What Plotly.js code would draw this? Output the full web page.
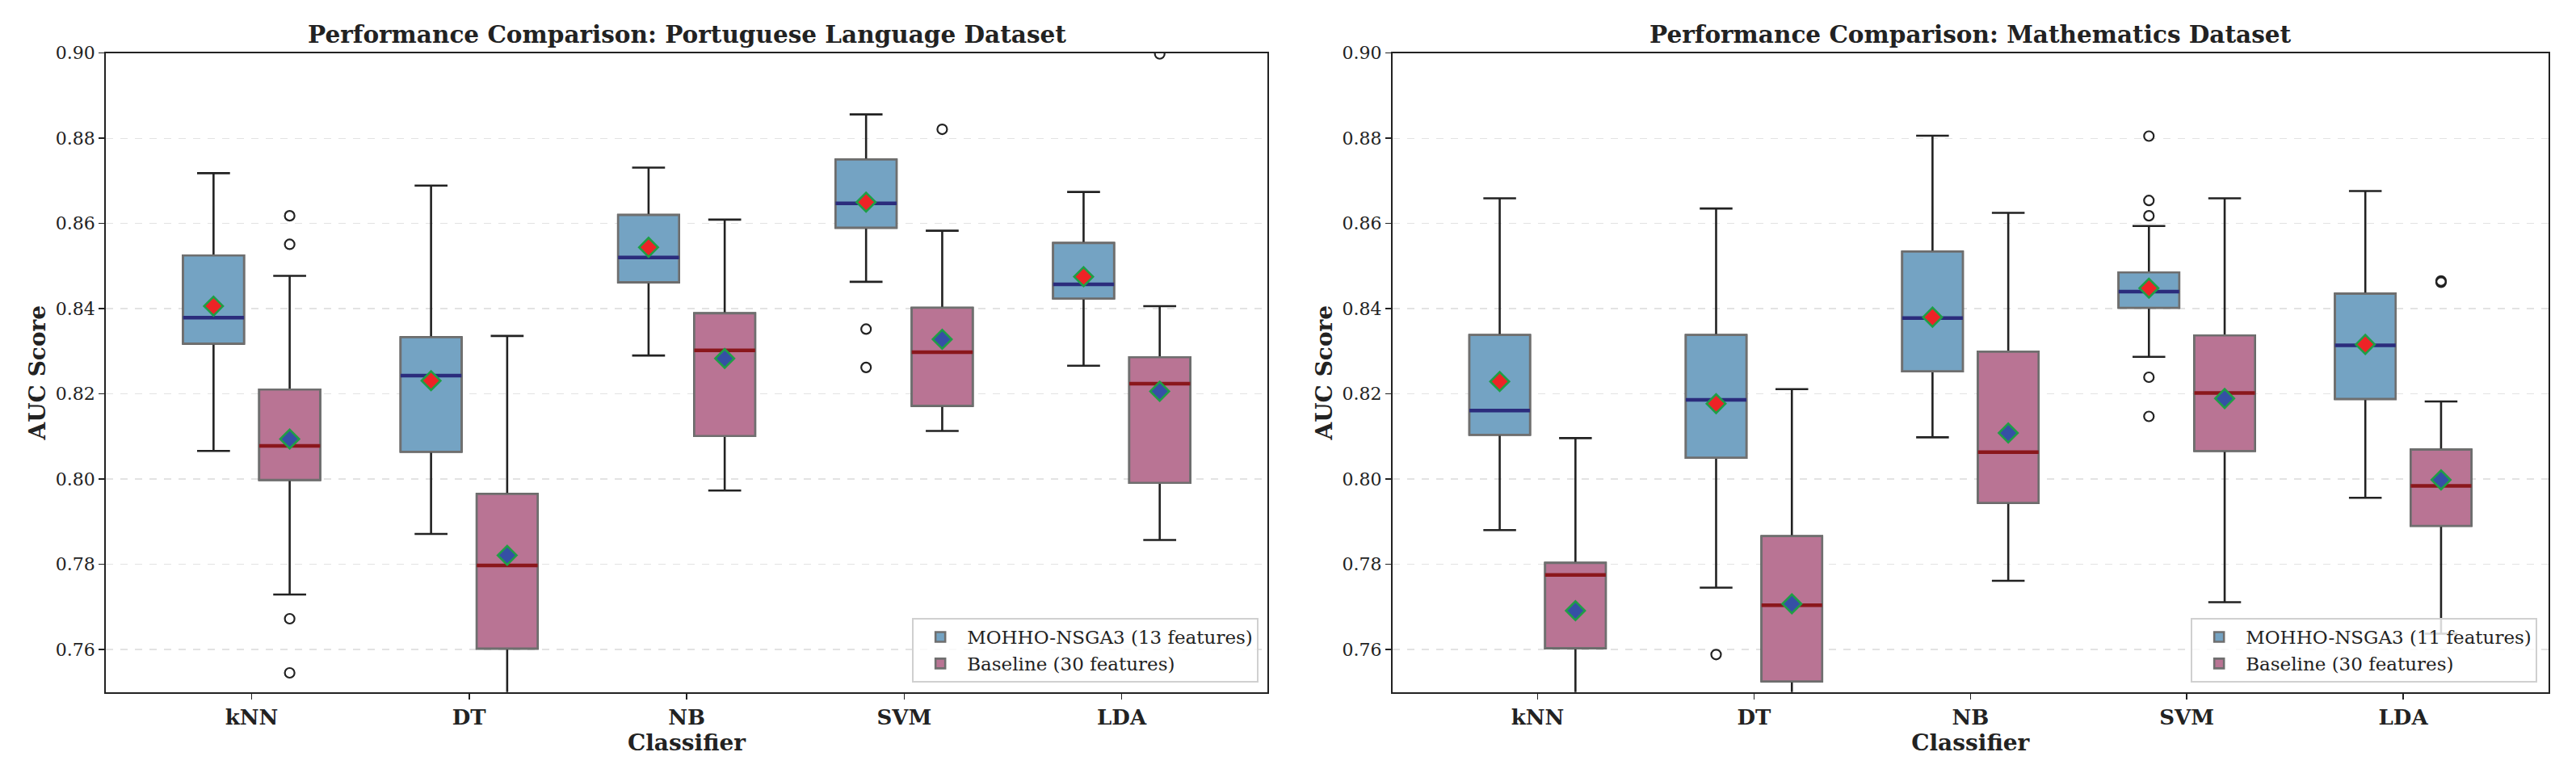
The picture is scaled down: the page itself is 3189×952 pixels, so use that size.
<!DOCTYPE html>
<html>
<head>
<meta charset="utf-8">
<script src="https://cdn.plot.ly/plotly-3.0.1.min.js"></script>
<style>
  html, body { margin: 0; padding: 0; background: #ffffff; }
  #chart { width: 3189px; height: 952px; }
</style>
</head>
<body>
<div id="chart"></div>
<script>
// ---------------- DATA ----------------
const categories = ['kNN', 'DT', 'NB', 'SVM', 'LDA'];
const yTickVals = [0.76, 0.78, 0.80, 0.82, 0.84, 0.86, 0.88, 0.90];

const panelTitles = ['Performance Comparison: Portuguese Language Dataset',
                     'Performance Comparison: Mathematics Dataset'];
const methodNamesPor = ['MOHHO-NSGA3 (13 features)', 'Baseline (30 features)'];
const methodNamesMat = ['MOHHO-NSGA3 (11 features)', 'Baseline (30 features)'];

// Portuguese – MOHHO-NSGA3
const porMohLower  = [0.8066, 0.7871, 0.8290, 0.8463, 0.8266];
const porMohQ1     = [0.8318, 0.8064, 0.8462, 0.8590, 0.8424];
const porMohMedian = [0.8379, 0.8243, 0.8520, 0.8647, 0.8457];
const porMohQ3     = [0.8525, 0.8333, 0.8620, 0.8750, 0.8554];
const porMohUpper  = [0.8718, 0.8689, 0.8731, 0.8856, 0.8674];
const porMohMean   = [0.8406, 0.8231, 0.8544, 0.8650, 0.8475];
const porMohOut    = [[], [], [], [0.8352, 0.8262], []];

// Portuguese – Baseline
const porBaseLower  = [0.7729, 0.7450, 0.7973, 0.8113, 0.7857];
const porBaseQ1     = [0.7998, 0.7602, 0.8101, 0.8172, 0.7991];
const porBaseMedian = [0.8078, 0.7797, 0.8302, 0.8298, 0.8224];
const porBaseQ3     = [0.8210, 0.7965, 0.8389, 0.8402, 0.8286];
const porBaseUpper  = [0.8477, 0.8336, 0.8609, 0.8583, 0.8406];
const porBaseMean   = [0.8094, 0.7821, 0.8283, 0.8328, 0.8206];
const porBaseOut    = [[0.8618, 0.8551, 0.7672, 0.7545], [], [], [0.8821], [0.8998]];

// Mathematics – MOHHO-NSGA3
const matMohLower  = [0.7880, 0.7745, 0.8098, 0.8287, 0.7956];
const matMohQ1     = [0.8104, 0.8050, 0.8253, 0.8402, 0.8188];
const matMohMedian = [0.8161, 0.8186, 0.8378, 0.8440, 0.8314];
const matMohQ3     = [0.8338, 0.8338, 0.8534, 0.8485, 0.8435];
const matMohUpper  = [0.8659, 0.8635, 0.8806, 0.8594, 0.8676];
const matMohMean   = [0.8229, 0.8177, 0.8380, 0.8448, 0.8316];
const matMohOut    = [[], [0.7588], [], [0.8805, 0.8654, 0.8618, 0.8239, 0.8147], []];

// Mathematics – Baseline
const matBaseLower  = [0.7450, 0.7480, 0.7761, 0.7711, 0.7637];
const matBaseQ1     = [0.7603, 0.7525, 0.7944, 0.8066, 0.7890];
const matBaseMedian = [0.7775, 0.7704, 0.8063, 0.8202, 0.7984];
const matBaseQ3     = [0.7803, 0.7866, 0.8299, 0.8337, 0.8069];
const matBaseUpper  = [0.8096, 0.8211, 0.8625, 0.8659, 0.8182];
const matBaseMean   = [0.7691, 0.7707, 0.8108, 0.8189, 0.7998];
const matBaseOut    = [[], [], [], [], [0.8465, 0.8462]];

// ---------------- STYLE ----------------
const FONT = 'DejaVu Serif, Liberation Serif, serif';
const BOX_W = 0.28;
const OFFSET = 0.175;
const styles = [
  { fill: '#74a3c3', median: '#2b2c7c', meanFill: '#ee2326' },
  { fill: '#b97494', median: '#8a171c', meanFill: '#3550a5' }
];
const EDGE = '#6f6f6f';
const WHISK = '#222222';
const MEAN_EDGE = '#1f9e46';

function series(stats, k, xa, ya, legendName, legendId) {
  const st = styles[k];
  const pos = categories.map((c, i) => i + (k === 0 ? -OFFSET : OFFSET));
  const traces = [];
  // whiskers + caps (black)
  traces.push({
    type: 'box', x: pos, xaxis: xa, yaxis: ya,
    q1: stats.q1, median: stats.median, q3: stats.q3,
    lowerfence: stats.lower, upperfence: stats.upper,
    width: BOX_W, whiskerwidth: 0.54, boxpoints: false,
    line: { color: WHISK, width: 2.6 }, fillcolor: st.fill,
    showlegend: false, hoverinfo: 'skip'
  });
  // box body (grey edge)
  traces.push({
    type: 'box', x: pos, xaxis: xa, yaxis: ya, name: legendName, legend: legendId,
    q1: stats.q1, median: stats.median, q3: stats.q3,
    lowerfence: stats.q1, upperfence: stats.q3,
    width: BOX_W, whiskerwidth: 0, boxpoints: false,
    line: { color: EDGE, width: 2.6 }, fillcolor: st.fill,
    showlegend: true, hoverinfo: 'skip'
  });
  // median lines
  const mx = [], my = [];
  pos.forEach((p, i) => { mx.push(p - BOX_W / 2, p + BOX_W / 2, null); my.push(stats.median[i], stats.median[i], null); });
  traces.push({
    type: 'scatter', mode: 'lines', x: mx, y: my, xaxis: xa, yaxis: ya,
    line: { color: st.median, width: 4.5 }, showlegend: false, hoverinfo: 'skip'
  });
  // outliers
  const ox = [], oy = [];
  stats.out.forEach((arr, i) => arr.forEach(v => { ox.push(pos[i]); oy.push(v); }));
  traces.push({
    type: 'scatter', mode: 'markers', x: ox, y: oy, xaxis: xa, yaxis: ya,
    marker: { symbol: 'circle-open', size: 12, color: WHISK, line: { width: 2.2, color: WHISK } },
    showlegend: false, hoverinfo: 'skip'
  });
  // means
  traces.push({
    type: 'scatter', mode: 'markers', x: pos, y: stats.mean, xaxis: xa, yaxis: ya,
    marker: { symbol: 'diamond', size: 18, color: st.meanFill, line: { width: 2.6, color: MEAN_EDGE } },
    showlegend: false, hoverinfo: 'skip'
  });
  return traces;
}

const data = [].concat(
  series({ lower: porMohLower, q1: porMohQ1, median: porMohMedian, q3: porMohQ3, upper: porMohUpper, mean: porMohMean, out: porMohOut }, 0, 'x', 'y', methodNamesPor[0], 'legend'),
  series({ lower: porBaseLower, q1: porBaseQ1, median: porBaseMedian, q3: porBaseQ3, upper: porBaseUpper, mean: porBaseMean, out: porBaseOut }, 1, 'x', 'y', methodNamesPor[1], 'legend'),
  series({ lower: matMohLower, q1: matMohQ1, median: matMohMedian, q3: matMohQ3, upper: matMohUpper, mean: matMohMean, out: matMohOut }, 0, 'x2', 'y2', methodNamesMat[0], 'legend2'),
  series({ lower: matBaseLower, q1: matBaseQ1, median: matBaseMedian, q3: matBaseQ3, upper: matBaseUpper, mean: matBaseMean, out: matBaseOut }, 1, 'x2', 'y2', methodNamesMat[1], 'legend2')
);

function xAxis(domain, anchor) {
  return {
    domain: domain, anchor: anchor, range: [-0.67, 4.67],
    tickmode: 'array', tickvals: categories.map((c, i) => i), ticktext: categories,
    ticks: 'outside', ticklen: 7, tickwidth: 1.5, tickcolor: '#222',
    showline: true, mirror: true, linecolor: '#222', linewidth: 2,
    showgrid: false, zeroline: false,
    tickfont: { family: FONT, size: 26, color: '#222', weight: 'bold' },
    title: { text: '<b>Classifier</b>', font: { family: FONT, size: 28, color: '#222' }, standoff: 6 }
  };
}
function yAxis(domain, anchor) {
  return {
    domain: domain, anchor: anchor, range: [0.75, 0.90],
    tickmode: 'array', tickvals: yTickVals, tickformat: '.2f',
    ticks: 'outside', ticklen: 7, tickwidth: 1.5, tickcolor: '#222',
    showline: true, mirror: true, linecolor: '#222', linewidth: 2,
    showgrid: true, gridcolor: '#e3e3e3', griddash: 'dash', gridwidth: 1.2, zeroline: false,
    tickfont: { family: FONT, size: 22, color: '#222' },
    title: { text: '<b>AUC Score</b>', font: { family: FONT, size: 28, color: '#222' }, standoff: 4 }
  };
}

const legendStyle = {
  bgcolor: 'rgba(255,255,255,0.82)', bordercolor: '#d0d0d0', borderwidth: 2,
  font: { family: FONT, size: 23, color: '#222' },
  xanchor: 'right', yanchor: 'bottom', itemwidth: 56, tracegroupgap: 4
};

const layout = {
  width: 3189, height: 952,
  margin: { l: 0, r: 0, t: 0, b: 0 },
  paper_bgcolor: '#ffffff', plot_bgcolor: '#ffffff',
  showlegend: true,
  xaxis: xAxis([0.0411, 0.4920], 'y'),
  yaxis: yAxis([0.1001, 0.931], 'x'),
  xaxis2: xAxis([0.5406, 0.9892], 'y2'),
  yaxis2: yAxis([0.1001, 0.931], 'x2'),
  legend: Object.assign({ x: 0.4886, y: 0.1124 }, legendStyle),
  legend2: Object.assign({ x: 0.985, y: 0.1124 }, legendStyle),
  annotations: [
    { text: '<b>' + panelTitles[0] + '</b>', xref: 'paper', yref: 'paper', x: (0.0411 + 0.4920) / 2, y: 0.955,
      xanchor: 'center', yanchor: 'middle', showarrow: false, font: { family: FONT, size: 29.5, color: '#222' } },
    { text: '<b>' + panelTitles[1] + '</b>', xref: 'paper', yref: 'paper', x: (0.5406 + 0.9892) / 2, y: 0.955,
      xanchor: 'center', yanchor: 'middle', showarrow: false, font: { family: FONT, size: 29.5, color: '#222' } }
  ]
};

Plotly.newPlot('chart', data, layout, { staticPlot: true, displayModeBar: false });
</script>
</body>
</html>
